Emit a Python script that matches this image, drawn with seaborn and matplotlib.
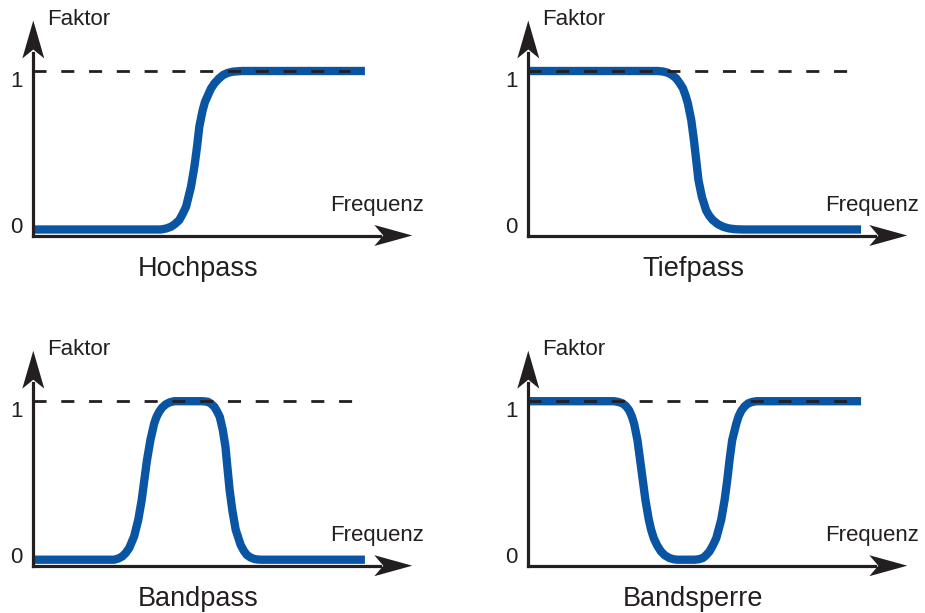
import matplotlib.pyplot as plt
from matplotlib.patches import Polygon
import seaborn as sns

# --- data (frequency axis 0-100, factor 0-1) ---
hp_freq = [0, 33.7, 35.0, 36.3, 37.4, 38.5, 39.4, 40.3, 41.6, 42.5, 43.2,
           43.8, 44.7, 45.3, 46.1, 46.9, 47.8, 49.0, 50.1, 51.3, 52.7, 55.0,
           57.6, 87.5]
hp_factor = [0, 0, 0.006, 0.017, 0.035, 0.059, 0.098, 0.143, 0.269, 0.396,
             0.522, 0.648, 0.754, 0.805, 0.848, 0.89, 0.922, 0.953, 0.975,
             0.988, 0.996, 1.0, 1, 1]

tp_freq = [0, 34.1, 35.5, 36.8, 37.9, 39.0, 39.9, 40.8, 41.5, 42.1, 43.0,
           43.7, 44.3, 44.9, 45.8, 46.9, 47.7, 48.7, 50.0, 51.4, 52.9, 54.5,
           56.5, 58.9, 87.8]
tp_factor = [1, 1, 0.997, 0.989, 0.975, 0.954, 0.925, 0.891, 0.845, 0.796,
             0.690, 0.564, 0.438, 0.311, 0.206, 0.122, 0.088, 0.059, 0.034,
             0.017, 0.007, 0.002, 0, 0, 0]

bp_freq = [0, 21.3, 22.4, 23.5, 24.4, 25.3, 25.9, 26.6, 27.7, 28.6, 29.3,
           30.0, 30.9, 31.9, 32.5, 33.2, 34.0, 35.0, 36.0, 37.2, 40.0, 44.3,
           45.2, 46.1, 46.9, 47.8, 48.5, 49.2, 50.0, 50.7, 51.2, 51.8, 52.5,
           53.4, 54.7, 55.5, 56.3, 57.3, 58.4, 59.3, 60.2, 87.5]
bp_factor = [0, 0, 0.007, 0.021, 0.043, 0.073, 0.107, 0.147, 0.252, 0.377,
             0.503, 0.629, 0.755, 0.860, 0.9, 0.933, 0.96, 0.981, 0.993, 1,
             1, 1, 0.999, 0.996, 0.984, 0.964, 0.935, 0.901, 0.818, 0.713,
             0.587, 0.440, 0.314, 0.189, 0.094, 0.058, 0.031, 0.014, 0.004,
             0.001, 0, 0]

bs_freq = [0, 22.6, 23.8, 24.9, 25.8, 26.6, 27.3, 27.9, 28.8, 29.5, 30.2,
           30.9, 31.8, 32.4, 33.1, 34.0, 35.0, 36.0, 37.2, 38.3, 39.4, 41.5,
           43.9, 45.0, 46.1, 46.9, 47.8, 48.7, 49.6, 50.9, 51.8, 52.5, 53.1,
           53.8, 54.9, 55.5, 56.2, 57.1, 58.0, 59.0, 60.2, 87.8]
bs_factor = [1, 1, 0.995, 0.986, 0.968, 0.943, 0.905, 0.860, 0.755, 0.629,
             0.503, 0.377, 0.252, 0.19, 0.136, 0.09, 0.052, 0.028, 0.011,
             0.003, 0, 0, 0, 0.003, 0.011, 0.028, 0.052, 0.09, 0.136, 0.252,
             0.377, 0.503, 0.629, 0.755, 0.860, 0.905, 0.940, 0.968, 0.986,
             0.995, 1, 1]

titles = ["Hochpass", "Tiefpass", "Bandpass", "Bandsperre"]
ref_end = [83.6, 87.7, 87.5, 84.1]      # where the dashed "1" line stops
tick_labels = ["0", "1"]
x_label = "Frequenz"
y_label = "Faktor"

freqs = [hp_freq, tp_freq, bp_freq, bs_freq]
factors = [hp_factor, tp_factor, bp_factor, bs_factor]

BLUE = "#0a55a3"
INK = "#231f20"

sns.set_theme(style="white")
plt.rcParams["font.family"] = ["Liberation Sans", "DejaVu Sans"]

W, H = 925, 613
ORIGINS = [(33.3, 235.5), (528.3, 235.5), (33.3, 565.7), (528.3, 565.7)]
AX_W, AX_H = 379, 215           # axis lengths in px (origin -> arrow tip)
PX_PER_UNIT = 158.5
Y0 = -6 / PX_PER_UNIT           # zero level sits just above the axis line
TICK_BASE = [2.5, 148.5]        # label baselines above the axis line, px


def fx(x):
    return x / W


def fy(y):
    return 1 - y / H


fig = plt.figure(figsize=(W / 100, H / 100), dpi=100)

for i, (ox, oy) in enumerate(ORIGINS):
    ax = fig.add_axes([fx(ox), fy(oy), AX_W / W, AX_H / H])
    sns.lineplot(x=freqs[i], y=factors[i], ax=ax, color=BLUE, linewidth=6.0,
                 sort=False, estimator=None)
    curve = ax.lines[-1]
    curve.set_solid_joinstyle("round")
    curve.set_solid_capstyle("butt")
    ax.plot([0, ref_end[i]], [1, 1], color=INK, linewidth=2.0,
            dashes=(4.7, 5.3), zorder=5)
    ax.set_xlim(0, 100)
    ax.set_ylim(Y0, Y0 + AX_H / PX_PER_UNIT)
    ax.set_axis_off()

    # axis lines with notched arrow heads
    kw = dict(transform=ax.transAxes, color=INK, linewidth=2.3,
              clip_on=False, solid_capstyle="projecting", zorder=6)
    ax.plot([0, 1 - 32 / AX_W], [0, 0], **kw)
    ax.plot([0, 0], [0, 1 - 32 / AX_H], **kw)
    hx = Polygon([(1, 0), (1 - 38 / AX_W, 10.5 / AX_H),
                  (1 - 29 / AX_W, 0), (1 - 38 / AX_W, -10.5 / AX_H)],
                 closed=True, transform=ax.transAxes, facecolor=INK,
                 edgecolor="none", clip_on=False, zorder=7)
    hy = Polygon([(0, 1), (-11 / AX_W, 1 - 38 / AX_H),
                  (0, 1 - 29 / AX_H), (11 / AX_W, 1 - 38 / AX_H)],
                 closed=True, transform=ax.transAxes, facecolor=INK,
                 edgecolor="none", clip_on=False, zorder=7)
    ax.add_patch(hx)
    ax.add_patch(hy)

    fig.text(fx(ox + 14), fy(oy - 210.5), y_label, ha="left",
             va="baseline", fontsize=16, color=INK)
    fig.text(fx(ox + 297), fy(oy - 25), x_label, ha="left",
             va="baseline", fontsize=16, color=INK)
    for lab, base in zip(tick_labels, TICK_BASE):
        fig.text(fx(ox - 16.5), fy(oy - base), lab, ha="center",
                 va="baseline", fontsize=16, color=INK)
    fig.text(fx(ox + 165), fy(oy + 40), titles[i], ha="center",
             va="baseline", fontsize=19.5, color=INK)

fig.savefig("out.png", dpi=100, facecolor="white")
